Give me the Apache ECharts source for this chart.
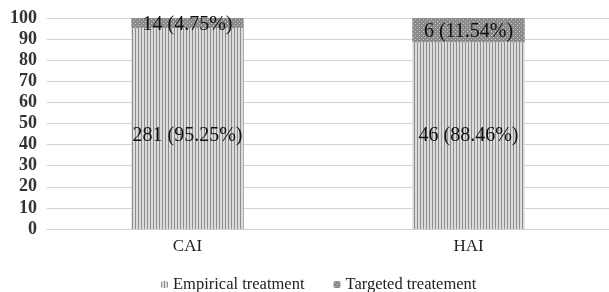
<!DOCTYPE html>
<html>
<head>
<meta charset="utf-8">
<script src="https://cdn.jsdelivr.net/npm/echarts@6/dist/echarts.min.js"></script>
<style>
  html, body { margin: 0; padding: 0; background: #fff; }
  #main { width: 609px; height: 292px; }
</style>
</head>
<body>
<div id="main"></div>
<script>
var categories = ['CAI', 'HAI'];
var empiricalCount = [281, 46];
var empiricalPct = [95.25, 88.46];
var targetedCount = [14, 6];
var targetedPct = [4.75, 11.54];
var yTicks = [0, 10, 20, 30, 40, 50, 60, 70, 80, 90, 100];

// stripe pattern for empirical, dotted for targeted
function stripes() {
  var c = document.createElement('canvas');
  c.width = 3; c.height = 4;
  var ctx = c.getContext('2d');
  ctx.fillStyle = '#dcdcdc';
  ctx.fillRect(0, 0, 3, 4);
  ctx.fillStyle = '#8c8c8c';
  ctx.fillRect(0, 0, 1, 4);
  return c;
}
function dots() {
  var c = document.createElement('canvas');
  c.width = 4; c.height = 4;
  var ctx = c.getContext('2d');
  ctx.fillStyle = '#8a8a8a';
  ctx.fillRect(0, 0, 4, 4);
  ctx.fillStyle = '#c8c8c8';
  ctx.fillRect(1, 1, 1, 1);
  ctx.fillRect(3, 3, 1, 1);
  return c;
}
var stripePattern = { image: stripes(), repeat: 'repeat' };
var dotPattern = { image: dots(), repeat: 'repeat' };

var font = '"Liberation Serif", "DejaVu Serif", serif';

var chart = echarts.init(document.getElementById('main'));
chart.setOption({
  animation: false,
  textStyle: { fontFamily: font },
  grid: { left: 47, width: 571, top: 18, height: 211 },
  legend: {
    top: 276,
    left: 161,
    padding: 0,
    itemWidth: 7,
    itemHeight: 7,
    itemGap: 29,
    textStyle: { fontFamily: font, fontSize: 16.5, color: '#222' },
    data: ['Empirical treatment', 'Targeted treatement']
  },
  xAxis: {
    type: 'category',
    data: categories,
    axisLine: { show: true, lineStyle: { color: '#d0d0d0', width: 1 } },
    axisTick: { show: false },
    axisLabel: { fontFamily: font, fontSize: 17, color: '#222', margin: 9 }
  },
  yAxis: {
    type: 'value',
    min: yTicks[0],
    max: yTicks[yTicks.length - 1],
    interval: 10,
    axisLine: { show: false },
    axisTick: { show: false },
    splitLine: { lineStyle: { color: '#d0d0d0', width: 1 } },
    axisLabel: { fontFamily: font, fontSize: 18, fontWeight: 'bold', color: '#333', margin: 10 }
  },
  series: [
    {
      name: 'Empirical treatment',
      type: 'bar',
      stack: 'total',
      barWidth: '40%',
      data: empiricalPct,
      itemStyle: { color: stripePattern },
      label: {
        show: true,
        position: 'insideBottom',
        distance: 83,
        fontFamily: font,
        fontSize: 20,
        color: '#111',
        formatter: function (p) {
          return empiricalCount[p.dataIndex] + ' (' + empiricalPct[p.dataIndex].toFixed(2) + '%)';
        }
      }
    },
    {
      name: 'Targeted treatement',
      type: 'bar',
      stack: 'total',
      data: targetedPct,
      itemStyle: { color: dotPattern },
      label: {
        show: true,
        position: 'inside',
        offset: [0, 2],
        fontFamily: font,
        fontSize: 20,
        color: '#111',
        formatter: function (p) {
          return targetedCount[p.dataIndex] + ' (' + targetedPct[p.dataIndex].toFixed(2) + '%)';
        }
      }
    }
  ]
});
</script>
</body>
</html>
